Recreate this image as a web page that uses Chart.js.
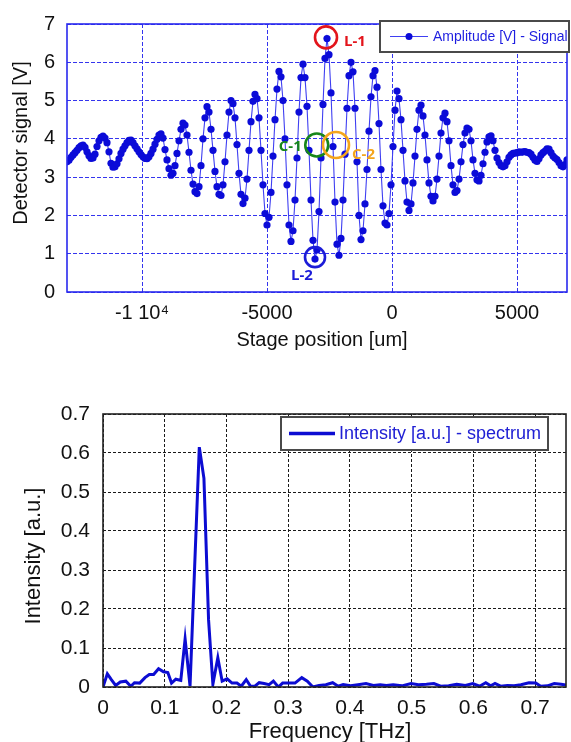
<!DOCTYPE html>
<html><head><meta charset="utf-8">
<script src="https://cdn.jsdelivr.net/npm/chart.js@4.4.1/dist/chart.umd.min.js"></script>
<style>
html,body{margin:0;padding:0;background:#fff;width:571px;height:742px;overflow:hidden}
#c1{position:absolute;left:0;top:0}
#c2{position:absolute;left:0;top:371px}
</style></head><body>
<canvas id="c1" width="571" height="371"></canvas>
<canvas id="c2" width="571" height="371"></canvas>
<script>
// ===== Top chart data: interferogram =====
const stagePosition = [
-13000,-12920,-12840,-12760,-12680,-12600,-12520,-12440,-12360,-12280,
-12200,-12120,-12040,-11960,-11880,-11800,-11720,-11640,-11560,-11480,
-11400,-11320,-11240,-11160,-11080,-11000,-10920,-10840,-10760,-10680,
-10600,-10520,-10440,-10360,-10280,-10200,-10120,-10040,-9960,-9880,
-9800,-9720,-9640,-9560,-9480,-9400,-9320,-9240,-9160,-9080,
-9000,-8920,-8840,-8760,-8680,-8600,-8520,-8440,-8360,-8280,
-8200,-8120,-8040,-7960,-7880,-7800,-7720,-7640,-7560,-7480,
-7400,-7320,-7240,-7160,-7080,-7000,-6920,-6840,-6760,-6680,
-6600,-6520,-6440,-6360,-6280,-6200,-6120,-6040,-5960,-5880,
-5800,-5720,-5640,-5560,-5480,-5400,-5320,-5240,-5160,-5080,
-5000,-4920,-4840,-4760,-4680,-4600,-4520,-4440,-4360,-4280,
-4200,-4120,-4040,-3960,-3880,-3800,-3720,-3640,-3560,-3480,
-3400,-3320,-3240,-3160,-3080,-3000,-2920,-2840,-2760,-2680,
-2600,-2520,-2440,-2360,-2280,-2200,-2120,-2040,-1960,-1880,
-1800,-1720,-1640,-1560,-1480,-1400,-1320,-1240,-1160,-1080,
-1000,-920,-840,-760,-680,-600,-520,-440,-360,-280,
-200,-120,-40,40,120,200,280,360,440,520,
600,680,760,840,920,1000,1080,1160,1240,1320,
1400,1480,1560,1640,1720,1800,1880,1960,2040,2120,
2200,2280,2360,2440,2520,2600,2680,2760,2840,2920,
3000,3080,3160,3240,3320,3400,3480,3560,3640,3720,
3800,3880,3960,4040,4120,4200,4280,4360,4440,4520,
4600,4680,4760,4840,4920,5000,5080,5160,5240,5320,
5400,5480,5560,5640,5720,5800,5880,5960,6040,6120,
6200,6280,6360,6440,6520,6600,6680,6760,6840,6920,
7000];
const detectorSignal = [
3.40,3.44,3.52,3.58,3.64,3.70,3.77,3.82,3.84,3.78,
3.66,3.56,3.49,3.50,3.60,3.80,3.95,4.04,4.07,4.02,
3.90,3.66,3.36,3.26,3.27,3.35,3.48,3.62,3.73,3.82,
3.90,3.96,3.97,3.90,3.82,3.74,3.66,3.59,3.53,3.49,
3.48,3.53,3.62,3.73,3.86,3.99,4.10,4.13,4.02,3.72,
3.45,3.22,3.05,3.10,3.30,3.62,3.95,4.25,4.41,4.36,
4.10,3.65,3.18,2.82,2.62,2.57,2.75,3.30,4.00,4.55,
4.84,4.70,4.25,3.70,3.15,2.75,2.55,2.52,2.80,3.40,
4.10,4.70,5.00,4.92,4.55,3.85,3.10,2.55,2.31,2.45,
2.95,3.70,4.45,4.98,5.16,5.05,4.55,3.70,2.80,2.05,
1.75,1.95,2.60,3.55,4.50,5.30,5.76,5.62,5.00,4.00,
2.80,1.75,1.32,1.60,2.40,3.50,4.70,5.60,5.95,5.60,
4.85,3.70,2.40,1.35,0.86,1.10,2.10,3.50,4.90,6.10,
6.62,6.20,5.20,3.80,2.35,1.25,0.96,1.40,2.40,3.60,
4.80,5.65,6.00,5.75,4.80,3.40,2.00,1.37,1.60,2.30,
3.20,4.20,5.10,5.65,5.78,5.35,4.40,3.20,2.25,1.80,
1.75,2.05,2.80,3.80,4.75,5.25,5.05,4.50,3.70,2.90,
2.35,2.13,2.30,2.85,3.55,4.25,4.75,4.88,4.60,4.10,
3.45,2.85,2.50,2.38,2.50,2.95,3.55,4.15,4.55,4.67,
4.45,3.95,3.30,2.80,2.60,2.65,2.95,3.40,3.85,4.15,
4.28,4.25,3.95,3.45,3.10,2.93,2.90,3.05,3.35,3.65,
3.92,4.05,4.08,3.95,3.70,3.50,3.38,3.30,3.27,3.30,
3.40,3.52,3.58,3.62,3.63,3.64,3.66,3.65,3.66,3.67,
3.65,3.64,3.60,3.52,3.44,3.41,3.48,3.58,3.64,3.68,
3.74,3.73,3.64,3.55,3.50,3.46,3.38,3.30,3.27,3.33,
3.45];
const signalLabel = 'Amplitude [V] - Signal';
const stageTicks = [-10000, -5000, 0, 5000];
const stageTickLabels = ['-1 10\u2074', '-5000', '0', '5000'];
const signalTicks = [0, 1, 2, 3, 4, 5, 6, 7];
const signalTickLabels = ['0', '1', '2', '3', '4', '5', '6', '7'];
const markLabels = ['L-1', 'C-1', 'C-2', 'L-2'];
const markX = [-2640, -3010, -2240, -3080];
const markY = [6.65, 3.84, 3.84, 0.91];

// ===== Bottom chart data: spectrum =====
const frequency = [
0,0.007,0.0135,0.0205,0.028,0.037,0.045,0.051,0.0595,0.068,
0.075,0.082,0.090,0.098,0.105,0.111,0.118,0.126,0.133,0.141,
0.1485,0.156,0.1635,0.171,0.178,0.186,0.193,0.201,0.209,0.217,
0.224,0.232,0.239,0.246,0.253,0.261,0.269,0.276,0.284,0.291,
0.299,0.311,0.322,0.331,0.340,0.350,0.361,0.372,0.381,0.389,
0.401,0.413,0.426,0.438,0.449,0.459,0.470,0.484,0.499,0.511,
0.524,0.536,0.547,0.560,0.573,0.587,0.599,0.610,0.620,0.628,
0.635,0.644,0.655,0.666,0.677,0.690,0.701,0.709,0.720,0.731,
0.742,0.750];
const intensity = [
0.000,0.034,0.019,0.004,0.013,0.015,0.002,0.011,0.010,0.024,
0.032,0.032,0.047,0.039,0.037,0.010,0.020,0.017,0.123,0.002,
0.310,0.615,0.535,0.172,0.007,0.075,0.015,0.021,0.010,0.010,
0.002,0.019,0.002,0.002,0.011,0.009,0.006,0.015,0.000,0.010,
0.010,0.010,0.024,0.015,0.000,0.004,0.006,0.011,0.002,0.006,
0.003,0.006,0.009,0.004,0.006,0.004,0.006,0.003,0.009,0.006,
0.007,0.009,0.002,0.003,0.007,0.004,0.009,0.002,0.011,0.003,
0.009,0.002,0.004,0.003,0.006,0.011,0.010,0.002,0.003,0.009,
0.007,0.005];
const spectrumLabel = 'Intensity [a.u.] - spectrum';
const freqTicks = [0, 0.1, 0.2, 0.3, 0.4, 0.5, 0.6, 0.7];
const freqTickLabels = ['0', '0.1', '0.2', '0.3', '0.4', '0.5', '0.6', '0.7'];
const intensityTicks = [0, 0.1, 0.2, 0.3, 0.4, 0.5, 0.6, 0.7];
const intensityTickLabels = ['0', '0.1', '0.2', '0.3', '0.4', '0.5', '0.6', '0.7'];

// ===== Styles =====
const FONT = "'Liberation Sans', Arial, sans-serif";
const BLUE_DOT = '#0b0bd8';
const BLUE_LINE = '#3f3ff2';
const BLUE_GRID = '#3434ee';
const markColors = ['#e3141b', '#17861a', '#f4a51c', '#1c1cd8'];
const markRadius = [11, 11.5, 13, 10];
const markDX = [18, -15, 16, -13];
const markDY = [4, 2, 10, 19];
const markAlign = ['left', 'right', 'left', 'center'];

function decorPlugin(cfg) {
  return {
    id: 'decor_' + cfg.name,
    afterDatasetsDraw(chart) {
      const { ctx, chartArea: a, scales } = chart;
      ctx.save();
      ctx.setLineDash([]);
      ctx.strokeStyle = cfg.frameColor;
      ctx.lineWidth = cfg.frameWidth;
      ctx.strokeRect(a.left, a.top, a.right - a.left, a.bottom - a.top);
      if (cfg.marks) {
        for (let i = 0; i < markLabels.length; i++) {
          const px = scales.x.getPixelForValue(markX[i]);
          const py = scales.y.getPixelForValue(markY[i]);
          ctx.beginPath();
          ctx.arc(px, py, markRadius[i], 0, Math.PI * 2);
          ctx.strokeStyle = markColors[i];
          ctx.lineWidth = 2.6;
          ctx.stroke();
          ctx.fillStyle = markColors[i];
          ctx.font = "bold 15px 'Open Sans', sans-serif";
          ctx.textAlign = markAlign[i];
          ctx.textBaseline = 'middle';
          ctx.fillText(markLabels[i], px + markDX[i], py + markDY[i]);
        }
      }
      const L = cfg.legend;
      ctx.fillStyle = '#fff';
      ctx.fillRect(L.x, L.y, L.w, L.h);
      ctx.strokeStyle = '#4a4a4a';
      ctx.lineWidth = 2;
      ctx.strokeRect(L.x, L.y, L.w, L.h);
      const ly = L.y + L.h / 2;
      ctx.beginPath();
      ctx.moveTo(L.x + L.l1, ly);
      ctx.lineTo(L.x + L.l2, ly);
      ctx.strokeStyle = L.lineColor;
      ctx.lineWidth = L.lineWidth;
      ctx.stroke();
      if (L.dot) {
        ctx.beginPath();
        ctx.arc(L.x + (L.l1 + L.l2) / 2, ly, 3.5, 0, Math.PI * 2);
        ctx.fillStyle = BLUE_DOT;
        ctx.fill();
      }
      ctx.fillStyle = L.textColor;
      ctx.font = L.font;
      ctx.textAlign = 'left';
      ctx.textBaseline = 'middle';
      ctx.fillText(L.text, L.x + L.tx, ly + 1);
      ctx.fillStyle = '#111';
      ctx.font = cfg.titleFont;
      ctx.textAlign = 'center';
      ctx.textBaseline = 'middle';
      ctx.fillText(cfg.xTitle, cfg.xTitlePos[0], cfg.xTitlePos[1]);
      ctx.translate(cfg.yTitlePos[0], cfg.yTitlePos[1]);
      ctx.rotate(-Math.PI / 2);
      ctx.fillText(cfg.yTitle, 0, 0);
      ctx.restore();
    }
  };
}

new Chart(document.getElementById('c1'), {
  type: 'line',
  data: {
    datasets: [{
      label: signalLabel,
      data: stagePosition.map((x, i) => ({ x: x, y: detectorSignal[i] })),
      borderColor: BLUE_LINE,
      borderWidth: 1.1,
      pointRadius: 3.6,
      pointHoverRadius: 3.6,
      pointBackgroundColor: BLUE_DOT,
      pointBorderWidth: 0,
      tension: 0
    }]
  },
  options: {
    responsive: false, animation: false, devicePixelRatio: 1,
    layout: { padding: { left: 0, right: 4, top: 24, bottom: 0 } },
    plugins: { legend: { display: false }, tooltip: { enabled: false } },
    scales: {
      x: {
        type: 'linear', min: -13000, max: 7000,
        afterBuildTicks: s => { s.ticks = stageTicks.map(v => ({ value: v })); },
        afterFit: s => { s.height = 79; },
        grid: { color: BLUE_GRID, lineWidth: 1, drawTicks: false },
        border: { display: false, dash: [4, 2] },
        ticks: { padding: 9, autoSkip: false, maxRotation: 0, color: '#111',
          font: { family: FONT, size: 20 },
          callback: (v, i) => stageTickLabels[i] }
      },
      y: {
        type: 'linear', min: 0, max: 7,
        afterBuildTicks: s => { s.ticks = signalTicks.map(v => ({ value: v })); },
        afterFit: s => { s.width = 67; },
        grid: { color: BLUE_GRID, lineWidth: 1, drawTicks: false },
        border: { display: false, dash: [4, 2] },
        ticks: { padding: 12, color: '#111', font: { family: FONT, size: 20 },
          callback: (v, i) => signalTickLabels[i] }
      }
    }
  },
  plugins: [decorPlugin({
    name: 'top', frameColor: '#2a2aee', frameWidth: 1.6, marks: true,
    legend: { x: 380, y: 21, w: 189, h: 31, l1: 10, l2: 48, tx: 53, lineColor: BLUE_LINE, lineWidth: 1.2,
      dot: true, text: signalLabel, textColor: '#1e1ee0', font: '14px ' + FONT },
    titleFont: '20px ' + FONT,
    xTitle: 'Stage position [um]', xTitlePos: [322, 340],
    yTitle: 'Detector signal [V]', yTitlePos: [21, 143]
  })]
});

new Chart(document.getElementById('c2'), {
  type: 'line',
  data: {
    datasets: [{
      label: spectrumLabel,
      data: frequency.map((x, i) => ({ x: x, y: intensity[i] })),
      borderColor: '#0c0cd2',
      borderWidth: 3,
      pointRadius: 0,
      tension: 0
    }]
  },
  options: {
    responsive: false, animation: false, devicePixelRatio: 1,
    layout: { padding: { left: 0, right: 5, top: 43, bottom: 0 } },
    plugins: { legend: { display: false }, tooltip: { enabled: false } },
    scales: {
      x: {
        type: 'linear', min: 0, max: 0.75,
        afterBuildTicks: s => { s.ticks = freqTicks.map(v => ({ value: v })); },
        afterFit: s => { s.height = 55; },
        grid: { color: '#1a1a1a', lineWidth: 1, drawTicks: false },
        border: { display: false, dash: [3, 2] },
        ticks: { padding: 9, autoSkip: false, maxRotation: 0, color: '#111',
          font: { family: FONT, size: 21 },
          callback: (v, i) => freqTickLabels[i] }
      },
      y: {
        type: 'linear', min: 0, max: 0.7,
        afterBuildTicks: s => { s.ticks = intensityTicks.map(v => ({ value: v })); },
        afterFit: s => { s.width = 103; },
        grid: { color: '#1a1a1a', lineWidth: 1, drawTicks: false },
        border: { display: false, dash: [3, 2] },
        ticks: { padding: 13, color: '#111', font: { family: FONT, size: 21 },
          callback: (v, i) => intensityTickLabels[i] }
      }
    }
  },
  plugins: [decorPlugin({
    name: 'bottom', frameColor: '#222', frameWidth: 1.6, marks: false,
    legend: { x: 281, y: 46, w: 267, h: 33, l1: 8, l2: 54, tx: 58, lineColor: '#0c0cd2', lineWidth: 3.5,
      dot: false, text: spectrumLabel, textColor: '#2020d4', font: '18px ' + FONT },
    titleFont: '22px ' + FONT,
    xTitle: 'Frequency [THz]', xTitlePos: [330, 361],
    yTitle: 'Intensity [a.u.]', yTitlePos: [34, 185]
  })]
});
</script>
</body></html>
